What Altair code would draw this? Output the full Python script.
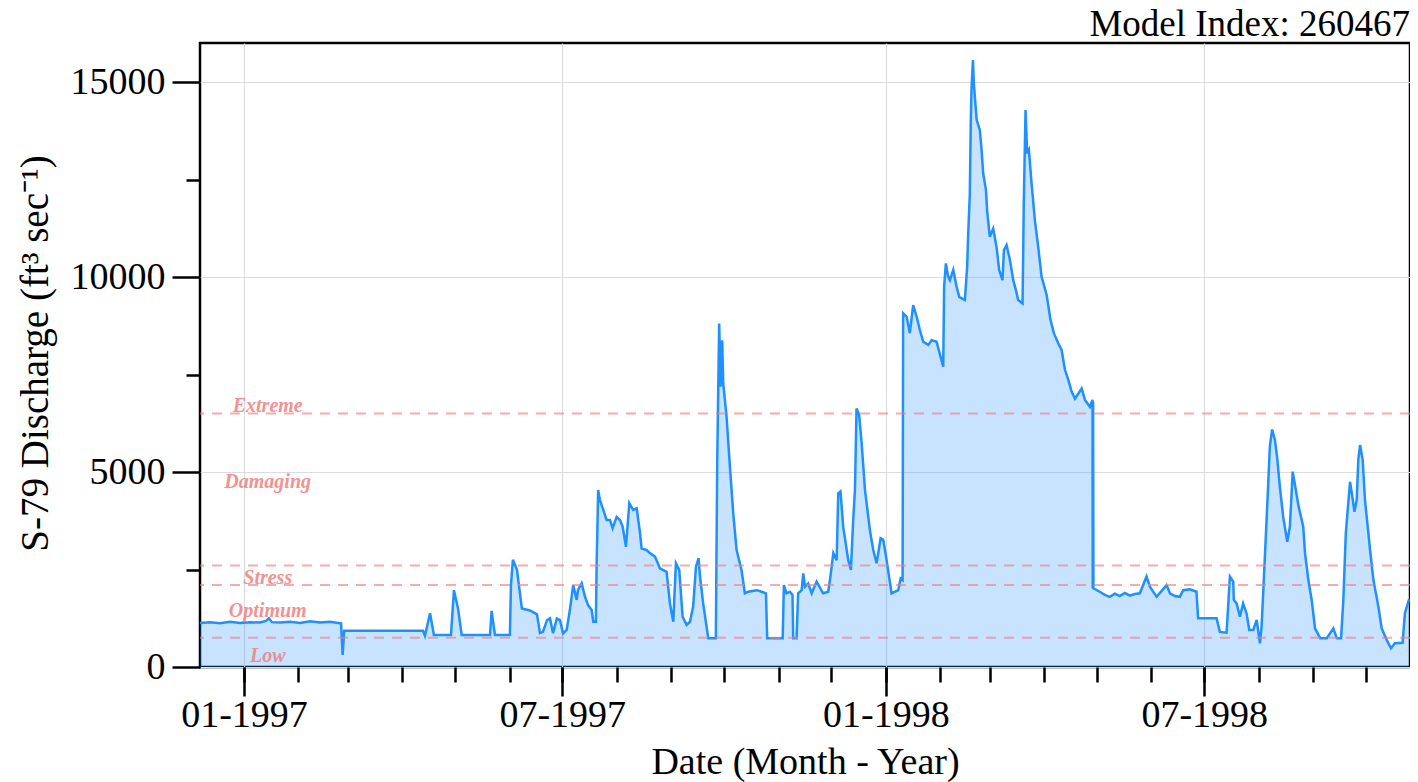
import altair as alt
import pandas as pd

# ---- data (days since 1996-12-07, discharge ft3/s) ----
START = "1996-12-07"
days = [0, 5.7, 11.4, 17.1, 22.7, 28.4, 34.1, 37.5, 39.2, 40.9, 45.5, 51.2, 56.9, 62.5, 68.2, 73.9, 78.5, 80.2, 81.1, 82.0,
        126.8, 127.9, 130.8, 133.0, 142.7, 144.4, 146.7, 148.8, 164.9, 165.8, 167.7, 176.2, 176.8, 177.9, 180.2, 183.0,
        187.6, 191.6, 193.3, 195.0, 197.3, 199.0, 200.7, 202.9, 204.7, 206.4, 208.5, 210.3, 212.2, 214.2, 214.9, 217.0,
        218.9, 220.6, 222.7, 223.6, 225.1, 225.5, 226.4, 227.4, 229.3, 231.2, 233.1, 234.6, 236.9, 238.8, 240.3, 242.2,
        244.1, 246.3, 248.3, 250.1, 251.1, 254.0, 255.8, 258.7, 261.5, 265.3, 267.2, 269.1, 270.6, 272.5, 274.4, 276.7,
        278.6, 280.4, 282.0, 283.5, 284.3, 286.1, 289.0, 293.3, 294.1, 295.2, 296.0, 296.9, 297.5, 299.4, 301.3, 303.2,
        305.1, 307.9, 309.8, 311.7, 316.5, 319.3, 321.8, 322.5, 331.3, 332.0, 333.5, 335.4, 336.9, 337.3, 339.2, 340.1,
        342.1, 343.0, 344.0, 345.8, 347.8, 350.6, 354.3, 357.2, 358.2, 360.1, 362.0, 362.9, 364.2, 365.7, 368.6, 370.1,
        371.4, 372.4, 373.3, 374.8, 376.2, 378.1, 380.9, 382.8, 384.7, 387.0, 388.5, 390.4, 393.2, 397.0, 398.4, 399.5,
        399.8, 401.8, 403.6, 405.5, 407.5, 409.3, 411.2, 414.1, 416.0, 418.8, 422.6, 423.1, 424.1, 425.4, 426.4, 428.3,
        430.2, 431.7, 434.9, 436.2, 436.8, 437.7, 438.3, 438.7, 439.5, 440.0, 441.6, 443.4, 444.4, 445.3, 446.9, 447.6,
        449.1, 451.0, 452.9, 454.4, 456.3, 457.1, 458.6, 460.5, 462.4, 463.9, 465.2, 467.7, 468.4, 469.4, 470.3, 471.3,
        472.8, 474.7, 476.6, 478.5, 481.4, 483.6, 485.5, 488.0, 489.9, 491.8, 493.7, 495.6, 497.5, 499.4, 501.3, 503.2,
        506.0, 507.5, 507.6, 507.8, 508.0, 511.6, 514.5, 517.3, 520.2, 523.0, 525.9, 528.7, 531.5, 534.4, 538.2, 540.1,
        543.9, 545.8, 549.6, 551.5, 554.3, 557.1, 559.0, 562.8, 566.6, 567.5, 578.0, 579.9, 583.7, 585.6, 587.5, 587.8,
        589.4, 591.3, 593.1, 595.1, 596.6, 598.9, 600.8, 602.7, 603.6, 604.6, 606.1, 607.4, 608.3, 609.6, 611.2, 612.5,
        614.0, 615.9, 618.2, 619.7, 621.3, 622.6, 624.5, 627.3, 628.3, 630.2, 632.1, 634.0, 636.9, 640.7, 644.4, 646.4,
        648.8, 650.1, 651.5, 653.9, 655.5, 656.4, 657.7, 658.6, 659.6, 661.1, 662.4, 665.3, 667.2, 670.0, 671.9, 674.8,
        677.2, 679.4, 683.8, 685.1, 687.5]
discharge = [1130, 1150, 1120, 1160, 1130, 1150, 1140, 1180, 1250, 1150, 1140, 1160, 1130, 1170, 1140, 1160, 1130, 1120, 310, 930,
             930, 800, 1380, 820, 820, 1970, 1500, 820, 820, 1440, 820, 820, 2100, 2750, 2500, 1500,
             1450, 1350, 870, 900, 1200, 1250, 870, 1240, 1200, 860, 950, 1460, 2100, 1720, 1970, 2150,
             1800, 1590, 1460, 1160, 1160, 2570, 4540, 4280, 4030, 3770, 3770, 3560, 3850, 3770, 3600, 3080,
             4200, 4030, 4070, 3470, 3040, 3000, 2920, 2830, 2530, 2440, 1630, 1160, 2660, 2490, 1290, 1080,
             1160, 1550, 2570, 2790, 2320, 1630, 740, 740, 5300, 8810, 7190, 8380, 7270, 6420, 5140, 3940,
             3000, 2490, 1890, 1930, 1970, 1930, 1890, 740, 740, 2100, 1890, 1930, 1850, 740, 740, 1890,
             1970, 2400, 2060, 2140, 1890, 2190, 1890, 1930, 2230, 2920, 2740, 4450, 4500, 3600, 2740, 2490,
             3770, 4540, 6630, 6460, 5740, 4540, 3510, 3000, 2660, 3300, 3260, 2740, 1890, 1970, 2270, 2230,
             9070, 8980, 8560, 9280, 8980, 8640, 8340, 8260, 8380, 8340, 7700, 9750, 10350, 10010, 9920, 10180,
             9750, 9490, 9410, 10260, 11120, 12100, 14070, 14840, 15560, 14960, 14030, 13770, 13260, 12660, 12230, 11670,
             11030, 11240, 10770, 10180, 9920, 10690, 10820, 10440, 9920, 9670, 9410, 9320, 11890, 14280, 13170, 13260,
             12410, 11460, 10770, 10010, 9540, 8900, 8560, 8300, 8130, 7620, 7360, 7060, 6880, 7010, 7140, 6850,
             6670, 6850, 2020, 6800, 2020, 1930, 1850, 1800, 1880, 1820, 1900, 1830, 1870, 1890, 2320, 2060,
             1800, 1900, 2100, 1890, 1820, 1800, 1970, 1990, 1930, 1250, 1250, 900, 880, 2320, 2190, 1720,
             1630, 1290, 1630, 1370, 950, 950, 1210, 610, 1030, 1970, 3430, 4710, 5650, 6090, 5820, 5350,
             4620, 3850, 3210, 3600, 5010, 4670, 4150, 3600, 2920, 2230, 1720, 990, 740, 740, 990, 740,
             740, 1720, 3430, 4750, 4280, 3980, 4280, 5310, 5690, 5310, 4280, 3000, 2230, 1550, 990, 690,
             480, 610, 620, 1380, 1740]

threshold_values = [750, 2100, 2600, 6500]
zone_names = ["Extreme", "Damaging", "Stress", "Optimum", "Low"]
zone_label_y = [6550, 4580, 2130, 1290, 140]
zone_label_date = "1997-01-14T12:00:00"

major_ticks = [(1997, 1), (1997, 7), (1998, 1), (1998, 7)]
minor_ticks = [(1997, m) for m in range(1, 13)] + [(1998, m) for m in range(1, 11)]
y_major = [0, 5000, 10000, 15000]
y_minor = [2500, 7500, 12500]

# ---- tables ----
dates = pd.Timestamp(START) + pd.to_timedelta(days, unit="D")
df = pd.DataFrame({"date": dates.strftime("%Y-%m-%dT%H:%M:%S"), "q": discharge})
thr = pd.DataFrame({"q": threshold_values})
lab = pd.DataFrame({"name": zone_names, "q": zone_label_y, "date": [zone_label_date] * len(zone_names)})

FONT = "Liberation Serif"
BLUE = "#1E90FF"
PINK = "#f08080"

xscale = alt.Scale(domain=[alt.DateTime(year=1996, month=12, date=7),
                           alt.DateTime(year=1998, month=10, date=26)])
yscale = alt.Scale(domain=[0, 16000], nice=False)

ax_x_major = alt.Axis(
    orient="bottom", values=[alt.DateTime(year=y, month=m, date=1) for y, m in major_ticks],
    format="%m-%Y", tickSize=29, tickWidth=2.5, tickColor="black", labelPadding=0,
    labelFont=FONT, labelFontSize=38, labelColor="black", grid=True, gridColor="#dcdcdc", gridWidth=1.2,
    domain=False, title="Date (Month - Year)", titleFont=FONT, titleFontSize=38, titleFontWeight="normal",
    titleColor="black", titleX=605, titleY=106, titleBaseline="alphabetic", titleAlign="center",
)
ax_x_minor = alt.Axis(
    orient="bottom", values=[alt.DateTime(year=y, month=m, date=1) for y, m in minor_ticks],
    tickSize=15, tickWidth=2.5, tickColor="black", labels=False, grid=False, domain=False, title=None,
)
ax_y_major = alt.Axis(
    orient="left", values=y_major, format="d", tickSize=28, tickWidth=2.5, tickColor="black", labelPadding=7,
    labelFont=FONT, labelFontSize=38, labelColor="black", grid=True, gridColor="#dcdcdc", gridWidth=1.2,
    domain=False, title="S-79 Discharge (ft³ sec⁻¹)", titleFont=FONT, titleFontSize=39,
    titleFontWeight="normal", titleColor="black", titleAngle=-90, titleX=-165, titleY=310,
    titleBaseline="middle", titleAlign="center",
)
ax_y_minor = alt.Axis(
    orient="left", values=y_minor, tickSize=14, tickWidth=2.5, tickColor="black",
    labels=False, grid=False, domain=False, title=None,
)

area = alt.Chart(df).mark_area(color=BLUE, opacity=0.25).encode(
    x=alt.X("date:T", scale=xscale, axis=ax_x_major),
    y=alt.Y("q:Q", scale=yscale, axis=ax_y_major),
)
line = alt.Chart(df).mark_line(color=BLUE, strokeWidth=2.5).encode(
    x=alt.X("date:T", scale=xscale, axis=ax_x_minor),
    y=alt.Y("q:Q", scale=yscale, axis=ax_y_minor),
)
rules = alt.Chart(thr).mark_rule(color=PINK, strokeWidth=2, strokeDash=[10, 8], opacity=0.65).encode(
    y=alt.Y("q:Q", scale=yscale, axis=None),
)
texts = alt.Chart(lab).mark_text(
    font=FONT, fontStyle="italic", fontWeight="bold", fontSize=20, color=PINK, opacity=0.85,
    align="center", baseline="alphabetic",
).encode(
    x=alt.X("date:T", scale=xscale, axis=None),
    y=alt.Y("q:Q", scale=yscale, axis=None),
    text="name:N",
)

chart = alt.layer(area, line, rules, texts).resolve_axis(x="independent", y="independent").properties(
    width=1210, height=624,
    autosize=alt.AutoSizeParams(type="none"),
    padding={"left": 192, "top": 35, "right": 0, "bottom": 115},
    title=alt.TitleParams("Model Index: 260467", anchor="end", frame="group", font=FONT, fontSize=37,
                          fontWeight="normal", color="black", baseline="alphabetic", offset=7, dy=37),
).configure_view(stroke="black", strokeWidth=2.5)

chart.save("out.html", embed_options={"renderer": "svg", "actions": False})
